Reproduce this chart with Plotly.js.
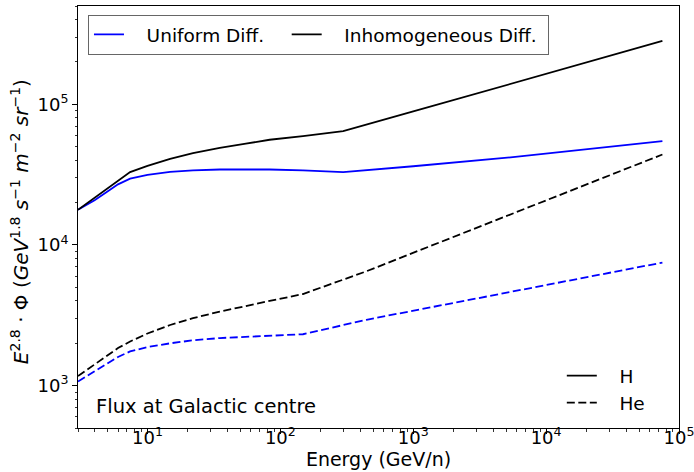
<!DOCTYPE html>
<html>
<head>
<meta charset="utf-8">
<script src="https://cdn.plot.ly/plotly-3.0.1.min.js"></script>
<style>html,body{margin:0;padding:0;background:#fff;}#chart{width:694px;height:472px;}</style>
</head>
<body>
<div id="chart"></div>
<script>
// Energy (GeV/n)
const energyH = [3, 4, 5, 6, 7.4, 10, 14.8, 22, 35, 55, 83, 148, 297, 1000, 5400, 75000];
const uniformH = [17800, 20800, 24000, 27000, 29600, 31500, 33100, 33900, 34400, 34500, 34400, 33900, 33000, 36300, 42000, 54800];
const inhomH = [17800, 21600, 25200, 28800, 33000, 36500, 41000, 45000, 49000, 52500, 56000, 59500, 64600, 89000, 140000, 282000];

const energyHe = [3, 4, 5, 6, 7.4, 10, 14.8, 22, 35, 55, 83, 148, 444, 75000];
const uniformHe = [1070, 1260, 1430, 1600, 1750, 1880, 2000, 2100, 2180, 2230, 2270, 2320, 2940, 7500];
const inhomHe = [1170, 1420, 1650, 1850, 2060, 2350, 2700, 3020, 3360, 3700, 4000, 4480, 6500, 44000];

const xTickVals = [10, 100, 1000, 10000, 100000];
const xTickText = ['10<sup>1</sup>', '10<sup>2</sup>', '10<sup>3</sup>', '10<sup>4</sup>', '10<sup>5</sup>'];
const yTickVals = [1000, 10000, 100000];
const yTickText = ['10<sup>3</sup>', '10<sup>4</sup>', '10<sup>5</sup>'];

const BLUE = '#0000ff';
const font = {family: 'DejaVu Sans, sans-serif', color: '#000'};
const DASH = '8px,3.5px';
const SP = '\u00A0\u00A0\u00A0';

const traces = [
  {x: energyH, y: uniformH, mode: 'lines', name: SP + 'Uniform Diff.' + SP, line: {color: BLUE, width: 1.8}, legend: 'legend'},
  {x: energyH, y: inhomH, mode: 'lines', name: SP + 'Inhomogeneous Diff.' + '\u00A0', line: {color: '#000', width: 1.8}, legend: 'legend'},
  {x: energyHe, y: uniformHe, mode: 'lines', name: 'He (uniform)', showlegend: false, line: {color: BLUE, width: 1.8, dash: DASH}},
  {x: energyHe, y: inhomHe, mode: 'lines', name: SP + 'He', line: {color: '#000', width: 1.8, dash: DASH}, legend: 'legend2', legendrank: 2},
  {x: [null], y: [null], mode: 'lines', name: SP + 'H', line: {color: '#000', width: 1.8}, legend: 'legend2', legendrank: 1}
];

const layout = {
  width: 694, height: 472,
  margin: {l: 78, r: 14.5, t: 6, b: 44},
  paper_bgcolor: '#fff', plot_bgcolor: '#fff',
  font: Object.assign({size: 18}, font),
  showlegend: true,
  xaxis: {
    type: 'log', range: [Math.log10(3), 5],
    tickvals: xTickVals, ticktext: xTickText,
    ticks: 'outside', ticklen: 5, tickwidth: 1, tickcolor: '#000',
    ticklabeloverflow: 'allow', ticklabelstandoff: -12,
    showline: true, linecolor: '#000', linewidth: 1, mirror: true,
    showgrid: false, zeroline: false,
    tickfont: Object.assign({size: 18}, font),
    minor: {ticks: 'outside', ticklen: 2.5, tickwidth: 0.8, tickcolor: '#000', dtick: 'D1', showgrid: false},
    title: {text: 'Energy (GeV/n)', font: Object.assign({size: 19}, font), standoff: 0}
  },
  yaxis: {
    type: 'log', range: [Math.log10(500), Math.log10(500000)],
    tickvals: yTickVals, ticktext: yTickText,
    ticks: 'outside', ticklen: 5, tickwidth: 1, tickcolor: '#000',
    showline: true, linecolor: '#000', linewidth: 1, mirror: true,
    showgrid: false, zeroline: false,
    tickfont: Object.assign({size: 18}, font),
    minor: {ticks: 'outside', ticklen: 2.5, tickwidth: 0.8, tickcolor: '#000', dtick: 'D1', showgrid: false}
  },
  legend: {
    orientation: 'h', x: 0.0166, y: 0.979, xanchor: 'left', yanchor: 'top',
    bgcolor: 'rgba(255,255,255,0.8)', bordercolor: '#666', borderwidth: 1,
    font: Object.assign({size: 18.5}, font), itemwidth: 30, tracegroupgap: 0
  },
  legend2: {
    x: 0.805, y: 0.168, xanchor: 'left', yanchor: 'top',
    bgcolor: 'rgba(0,0,0,0)', borderwidth: 0,
    font: Object.assign({size: 18.5}, font), tracegroupgap: 0
  },
  annotations: [{
    xref: 'paper', yref: 'paper', x: 0.027, y: 0.019, xanchor: 'left', yanchor: 'bottom',
    text: 'Flux at Galactic centre', showarrow: false, font: Object.assign({size: 19.5}, font)
  }, {
    xref: 'paper', yref: 'paper', x: -0.0964, y: 0.488, xanchor: 'center', yanchor: 'middle', textangle: -90,
    text: '<i>E</i><sup>2.8</sup> · Φ (<i>GeV</i><sup>1.8</sup> <i>s</i><sup>−1</sup> <i>m</i><sup>−2</sup> <i>sr</i><sup>−1</sup>)',
    showarrow: false, font: Object.assign({size: 20}, font)
  }]
};

Plotly.newPlot('chart', traces, layout, {staticPlot: true, displayModeBar: false});
</script>
</body>
</html>
